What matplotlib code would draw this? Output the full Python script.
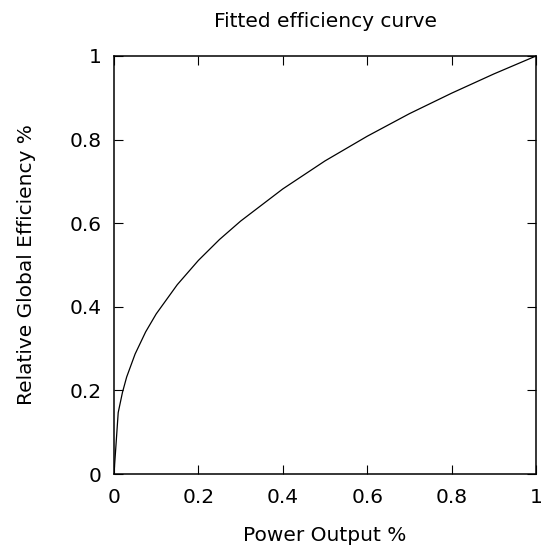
import matplotlib
matplotlib.use('Agg')
import matplotlib.pyplot as plt

# fitted efficiency curve, sampled along the power axis
power = [0.0, 0.01, 0.02, 0.03, 0.05, 0.075, 0.1, 0.15, 0.2, 0.25, 0.3,
         0.4, 0.5, 0.6, 0.7, 0.8, 0.9, 1.0]
efficiency = [0.0, 0.147, 0.195, 0.232, 0.287, 0.34, 0.383, 0.453, 0.511,
              0.561, 0.605, 0.682, 0.749, 0.808, 0.862, 0.911, 0.957, 1.0]

ticks = [0, 0.2, 0.4, 0.6, 0.8, 1]
tick_labels = ['0', '0.2', '0.4', '0.6', '0.8', '1']

plt.rcParams['font.family'] = 'DejaVu Sans'
fig = plt.figure(figsize=(5.41, 5.51), dpi=100)
ax = fig.add_axes([0.2107, 0.1397, 0.7801, 0.7587])

ax.plot(power, efficiency, color='black', lw=0.9)

ax.set_xlim(0, 1)
ax.set_ylim(0, 1)
ax.set_xticks(ticks)
ax.set_xticklabels(tick_labels)
ax.set_yticks(ticks)
ax.set_yticklabels(tick_labels)
ax.tick_params(direction='in', length=6.5, width=0.8, top=True, right=True,
               labelsize=14.5)
ax.tick_params(axis='x', pad=10)
ax.tick_params(axis='y', pad=9)
for spine in ax.spines.values():
    spine.set_linewidth(1.1)

ax.set_title('Fitted efficiency curve', fontsize=14.5, pad=21)
ax.set_xlabel('Power Output %', fontsize=14.5, labelpad=14)
ax.set_ylabel('Relative Global Efficiency %', fontsize=14.5, labelpad=24)

fig.savefig('out.png', dpi=100)
